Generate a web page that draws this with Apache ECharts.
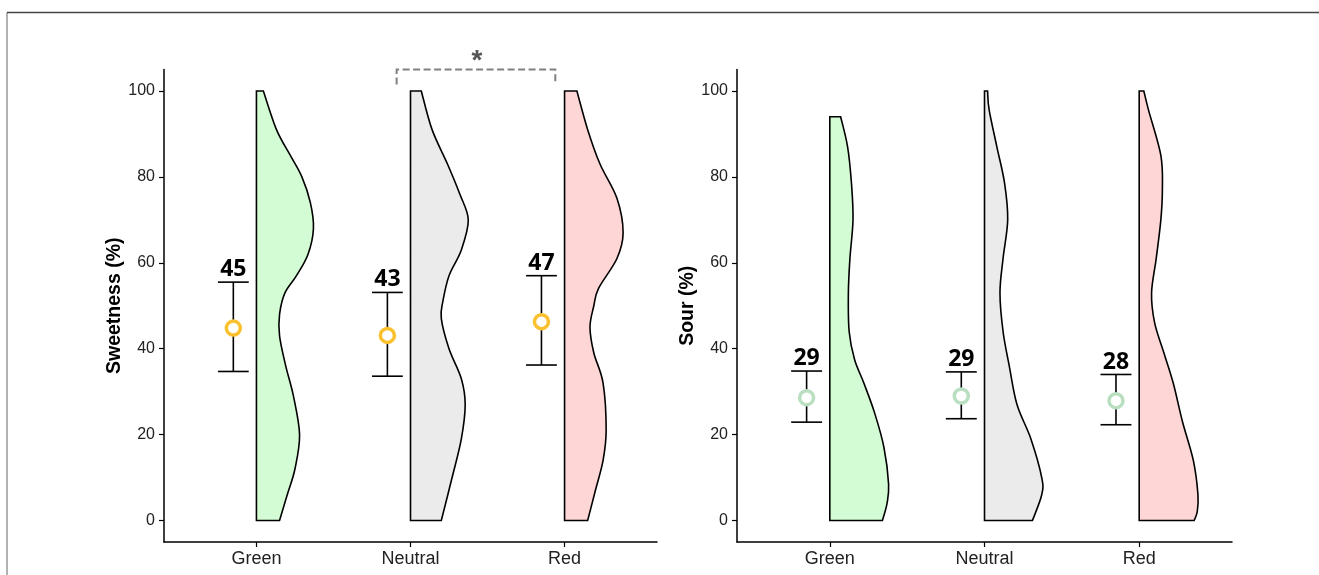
<!DOCTYPE html>
<html>
<head>
<meta charset="utf-8">
<title>Sweetness and sour ratings</title>
<script src="https://cdn.jsdelivr.net/npm/echarts@6/dist/echarts.min.js"></script>
<style>
html, body { margin: 0; padding: 0; background: #fff; }
#main { width: 1319px; height: 575px; }
</style>
</head>
<body>
<div id="main"></div>
<script>
var categories = ['Green', 'Neutral', 'Red'];
var yTicks = [0, 20, 40, 60, 80, 100];
var violinColors = ['#d4fcd4', '#ebebeb', '#ffd6d6'];

// half violin outlines: levels (%) and density width (in category units)
var sweetGreenY = [0, 6, 12, 20, 29, 36, 43, 48, 53, 57, 62, 68, 74, 80, 85, 91, 100];
var sweetGreenW = [0.15, 0.20, 0.25, 0.28, 0.24, 0.19, 0.15, 0.15, 0.185, 0.26, 0.335, 0.37, 0.35, 0.295, 0.22, 0.13, 0.045];
var sweetNeutralY = [0, 10, 19, 27, 33, 40, 47, 51, 57, 63, 70, 76, 83, 91, 100];
var sweetNeutralW = [0.20, 0.27, 0.33, 0.355, 0.33, 0.25, 0.20, 0.21, 0.25, 0.33, 0.375, 0.32, 0.24, 0.14, 0.07];
var sweetRedY = [0, 7, 14, 21, 32, 39, 45, 50, 54, 61, 67, 75, 83, 91, 100];
var sweetRedW = [0.15, 0.20, 0.25, 0.27, 0.25, 0.19, 0.165, 0.19, 0.22, 0.34, 0.38, 0.34, 0.23, 0.15, 0.08];

var sourGreenY = [0, 4, 8.5, 17, 25, 32, 37.5, 44, 53, 61, 70, 78.5, 87, 94];
var sourGreenW = [0.34, 0.37, 0.38, 0.35, 0.29, 0.22, 0.16, 0.125, 0.12, 0.13, 0.15, 0.14, 0.115, 0.07];
var sourNeutralY = [0, 6, 10, 19, 27, 36, 44, 53, 61, 70, 78.5, 87, 95.6, 100];
var sourNeutralW = [0.31, 0.37, 0.37, 0.30, 0.21, 0.16, 0.12, 0.10, 0.12, 0.15, 0.13, 0.08, 0.03, 0.02];
var sourRedY = [0, 2, 6, 14, 23, 32, 39, 46, 53, 61, 70, 77, 85, 95.6, 100];
var sourRedW = [0.355, 0.375, 0.38, 0.35, 0.28, 0.22, 0.16, 0.10, 0.08, 0.11, 0.14, 0.15, 0.14, 0.06, 0.03];

// mean and error bars
var sweetMean = [44.8, 43.1, 46.3];
var sweetUpper = [55.5, 53.1, 57.0];
var sweetLower = [34.7, 33.6, 36.2];
var sweetLabels = ['45', '43', '47'];

var sourMean = [28.6, 29.0, 27.9];
var sourUpper = [34.8, 34.6, 34.0];
var sourLower = [22.9, 23.7, 22.3];
var sourLabels = ['29', '29', '28'];

// significance bracket between Neutral and Red (sweetness)
var sigFrom = 1.91;
var sigTo = 2.94;
var sigLow = 101.5;
var sigHigh = 105;
var sigMark = '*';

var sweetViolins = [[sweetGreenY, sweetGreenW], [sweetNeutralY, sweetNeutralW], [sweetRedY, sweetRedW]];
var sourViolins = [[sourGreenY, sourGreenW], [sourNeutralY, sourNeutralW], [sourRedY, sourRedW]];

var barShift = 0.15;
var capHalf = 0.1;

function violinRenderer(profiles) {
	return function (params, api) {
		var i = params.dataIndex;
		var cat = api.value(0);
		var ys = profiles[i][0], ws = profiles[i][1];
		var pts = ys.map(function (y, k) { return api.coord([cat + ws[k], y]); });
		var n = pts.length;
		var b0 = api.coord([cat, ys[0]]);
		var bt = api.coord([cat, ys[n - 1]]);
		var d = 'M' + b0[0] + ' ' + b0[1] + ' L' + pts[0][0] + ' ' + pts[0][1];
		for (var k = 0; k < n - 1; k++) {
			var p0 = pts[Math.max(k - 1, 0)], p1 = pts[k], p2 = pts[k + 1], p3 = pts[Math.min(k + 2, n - 1)];
			var c1 = [p1[0] + (p2[0] - p0[0]) / 6, p1[1] + (p2[1] - p0[1]) / 6];
			var c2 = [p2[0] - (p3[0] - p1[0]) / 6, p2[1] - (p3[1] - p1[1]) / 6];
			d += ' C' + c1[0] + ' ' + c1[1] + ' ' + c2[0] + ' ' + c2[1] + ' ' + p2[0] + ' ' + p2[1];
		}
		d += ' L' + bt[0] + ' ' + bt[1] + ' Z';
		return {
			type: 'path',
			shape: { pathData: d },
			style: { fill: violinColors[i], stroke: '#000', lineWidth: 1.6 }
		};
	};
}

function errorRenderer(labels) {
	return function (params, api) {
		var x = api.value(0);
		var lo = api.value(1), hi = api.value(2);
		var top = api.coord([x, hi]), bot = api.coord([x, lo]);
		var l1 = api.coord([x - capHalf, hi]), r1 = api.coord([x + capHalf, hi]);
		var l2 = api.coord([x - capHalf, lo]), r2 = api.coord([x + capHalf, lo]);
		var ls = { stroke: '#000', lineWidth: 1.6 };
		return {
			type: 'group',
			children: [
				{ type: 'line', shape: { x1: top[0], y1: top[1], x2: bot[0], y2: bot[1] }, style: ls },
				{ type: 'line', shape: { x1: l1[0], y1: l1[1], x2: r1[0], y2: r1[1] }, style: ls },
				{ type: 'line', shape: { x1: l2[0], y1: l2[1], x2: r2[0], y2: r2[1] }, style: ls },
				{ type: 'text', style: { text: labels[params.dataIndex], x: top[0], y: top[1] - 1, align: 'center', verticalAlign: 'bottom', fontFamily: 'Open Sans', fontWeight: 'bold', fontSize: 23, fill: '#000' } }
			]
		};
	};
}

function bracketRenderer(params, api) {
	var a = api.coord([api.value(0), api.value(2)]);
	var b = api.coord([api.value(0), api.value(3)]);
	var c = api.coord([api.value(1), api.value(3)]);
	var e = api.coord([api.value(1), api.value(2)]);
	var mid = api.coord([(api.value(0) + api.value(1)) / 2, api.value(3)]);
	return {
		type: 'group',
		children: [
			{ type: 'polyline', shape: { points: [a, b, c, e] }, style: { stroke: '#808080', lineWidth: 2, lineDash: [7, 3.5], fill: null } },
			{ type: 'text', style: { text: sigMark, x: mid[0] + 1, y: mid[1] + 6, align: 'center', verticalAlign: 'bottom', fontFamily: 'Liberation Sans', fontWeight: 'bold', fontSize: 28, fill: '#555' } }
		]
	};
}

function makeX(idx) {
	return {
		type: 'value', gridIndex: idx, min: 0.4, max: 3.6,
		axisLine: { onZero: false, lineStyle: { color: '#000', width: 1.5 } },
		axisTick: { customValues: [1, 2, 3], length: 5, lineStyle: { color: '#000', width: 1.2 } },
		axisLabel: {
			customValues: [1, 2, 3], margin: 8, color: '#222', fontSize: 18, fontFamily: 'Liberation Sans',
			formatter: function (v) { return categories[Math.round(v) - 1]; }
		},
		splitLine: { show: false }
	};
}

function makeY(idx, name) {
	return {
		type: 'value', gridIndex: idx, min: -5, max: 105,
		name: name, nameLocation: 'middle', nameGap: 38,
		nameTextStyle: { color: '#000', fontSize: 19.5, fontWeight: 'bold', fontFamily: 'Liberation Sans' },
		axisLine: { show: true, onZero: false, lineStyle: { color: '#000', width: 1.5 } },
		axisTick: { show: true, customValues: yTicks, length: 5, lineStyle: { color: '#000', width: 1.2 } },
		axisLabel: { customValues: yTicks, margin: 9, color: '#222', fontSize: 16, fontFamily: 'Liberation Sans' },
		splitLine: { show: false }
	};
}

function panelSeries(idx, profiles, mean, lower, upper, labels, ringColor) {
	var cats = [1, 2, 3];
	return [
		{
			type: 'custom', xAxisIndex: idx, yAxisIndex: idx,
			renderItem: violinRenderer(profiles),
			data: cats.map(function (c) { return [c, 0]; }),
			z: 2, silent: true
		},
		{
			type: 'custom', xAxisIndex: idx, yAxisIndex: idx,
			renderItem: errorRenderer(labels),
			data: cats.map(function (c, i) { return [c - barShift, lower[i], upper[i]]; }),
			z: 3, silent: true
		},
		{
			type: 'scatter', xAxisIndex: idx, yAxisIndex: idx,
			symbol: 'circle', symbolSize: 14,
			itemStyle: { color: '#fff', borderColor: ringColor, borderWidth: 3.5, opacity: 1 },
			data: cats.map(function (c, i) { return [c - barShift, mean[i]]; }),
			z: 4, silent: true
		}
	];
}

var chart = echarts.init(document.getElementById('main'), null, { renderer: 'canvas' });

var option = {
	animation: false,
	backgroundColor: '#fff',
	grid: [
		{ left: 164, right: 662, top: 69.5, bottom: 33 },
		{ left: 737, right: 87, top: 69.5, bottom: 33 }
	],
	xAxis: [makeX(0), makeX(1)],
	yAxis: [makeY(0, 'Sweetness (%)'), makeY(1, 'Sour (%)')],
	graphic: [
		{ type: 'polyline', shape: { points: [[7, 575], [7, 12.5]] }, style: { stroke: '#999', lineWidth: 1.5, fill: null } },
		{ type: 'polyline', shape: { points: [[7, 12.5], [1319, 12.5]] }, style: { stroke: '#444', lineWidth: 1.5, fill: null } }
	],
	series: []
		.concat(panelSeries(0, sweetViolins, sweetMean, sweetLower, sweetUpper, sweetLabels, '#fbc02d'))
		.concat(panelSeries(1, sourViolins, sourMean, sourLower, sourUpper, sourLabels, '#b9dfc0'))
		.concat([{
			type: 'custom', xAxisIndex: 0, yAxisIndex: 0,
			renderItem: bracketRenderer,
			data: [[sigFrom, sigTo, sigLow, sigHigh]],
			clip: false, z: 5, silent: true
		}])
};

chart.setOption(option);
</script>
</body>
</html>
